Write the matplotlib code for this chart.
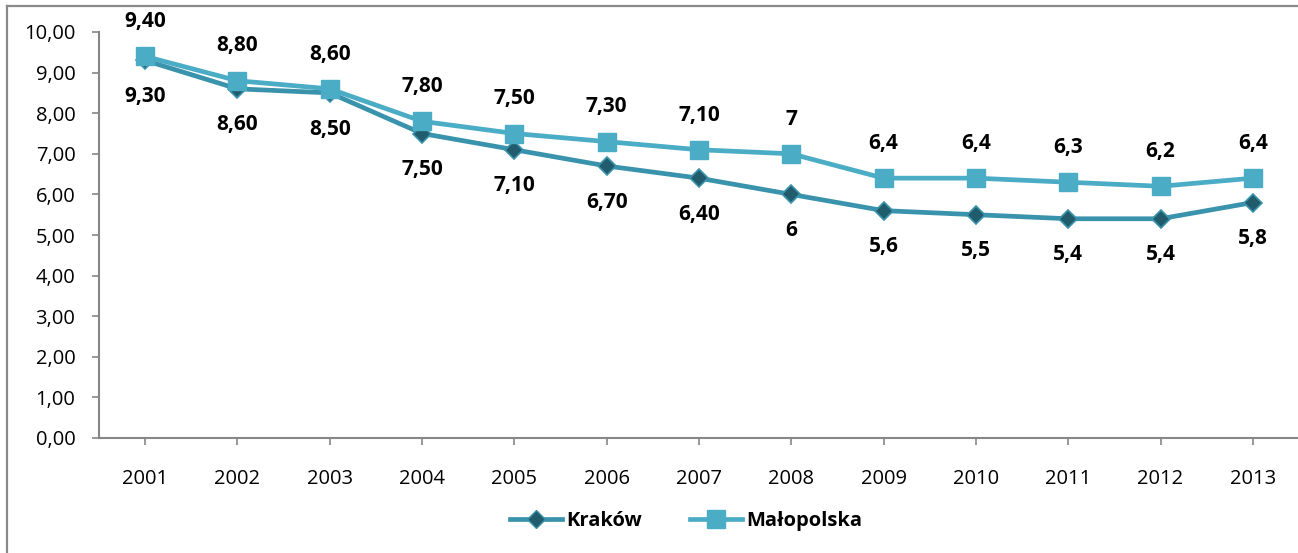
import matplotlib
matplotlib.use("Agg")
import matplotlib.pyplot as plt
from matplotlib.lines import Line2D

# Data
years = ["2001", "2002", "2003", "2004", "2005", "2006", "2007",
         "2008", "2009", "2010", "2011", "2012", "2013"]
krakow = [9.3, 8.6, 8.5, 7.5, 7.1, 6.7, 6.4, 6.0, 5.6, 5.5, 5.4, 5.4, 5.8]
malopolska = [9.4, 8.8, 8.6, 7.8, 7.5, 7.3, 7.1, 7.0, 6.4, 6.4, 6.3, 6.2, 6.4]
# number of decimals shown in the value labels (None = shortest form)
label_decimals = [2, 2, 2, 2, 2, 2, 2, None, None, None, None, None, None]
y_ticks = [0, 1, 2, 3, 4, 5, 6, 7, 8, 9, 10]

FONT = ["Open Sans", "DejaVu Sans"]
plt.rcParams["font.family"] = FONT

W, H, DPI = 1298, 553, 100
fig = plt.figure(figsize=(W / DPI, H / DPI), dpi=DPI)

C_KRK_LINE = "#3A93AC"
C_KRK_FACE = "#215C6C"
C_MAL = "#4BACC6"
C_AX = "#868686"


def fmt(v, d):
    s = f"{v:.{d}f}" if d is not None else f"{v:g}"
    return s.replace(".", ",")


# outer frame of the chart area
fx = 7 / W
fy = 1 - 6 / H
fig.add_artist(Line2D([fx, fx], [0, fy], transform=fig.transFigure, color="#8A8A8A", lw=1.6))
fig.add_artist(Line2D([fx, 1], [fy, fy], transform=fig.transFigure, color="#8A8A8A", lw=1.6))

ax = fig.add_axes([99 / W, 1 - 438 / H, 1200 / W, (438 - 32) / H])
x = list(range(len(years)))

LW = 3.4
ax.plot(x, krakow, color=C_KRK_LINE, lw=LW, marker="D", markersize=9.5,
        markerfacecolor=C_KRK_FACE, markeredgecolor=C_KRK_LINE, markeredgewidth=1.2,
        zorder=3, solid_joinstyle="round")
ax.plot(x, malopolska, color=C_MAL, lw=LW, marker="s", markersize=13,
        markerfacecolor=C_MAL, markeredgecolor=C_MAL, zorder=4)

LABEL_FS = 15
for i in x:
    ax.annotate(fmt(malopolska[i], label_decimals[i]), (i, malopolska[i]),
                xytext=(0, 25), textcoords="offset points", ha="center", va="center",
                fontsize=LABEL_FS, fontweight="bold", color="black")
    ax.annotate(fmt(krakow[i], label_decimals[i]), (i, krakow[i]),
                xytext=(0, -26), textcoords="offset points", ha="center", va="center",
                fontsize=LABEL_FS, fontweight="bold", color="black")

ax.set_xlim(-0.5, len(years) - 0.5)
ax.set_ylim(0, 10)
ax.set_yticks(y_ticks)
ax.set_yticklabels([fmt(v, 2) for v in y_ticks])
ax.set_xticks(x)
ax.set_xticklabels(years)

for side in ("top", "right"):
    ax.spines[side].set_visible(False)
for side in ("left", "bottom"):
    ax.spines[side].set_color(C_AX)
    ax.spines[side].set_linewidth(1.5)
ax.tick_params(axis="y", length=5, width=1.2, color=C_AX, labelsize=14.5, pad=12, labelcolor="black")
ax.tick_params(axis="x", length=5, width=1.2, color=C_AX, labelsize=14.5, pad=17, labelcolor="black")
ax.patch.set_alpha(0)

handles = [
    Line2D([], [], color=C_KRK_LINE, lw=LW, marker="D", markersize=9.5,
           markerfacecolor=C_KRK_FACE, markeredgecolor=C_KRK_LINE),
    Line2D([], [], color=C_MAL, lw=LW, marker="s", markersize=13,
           markerfacecolor=C_MAL, markeredgecolor=C_MAL),
]
fig.legend(handles, ["Kraków", "Małopolska"], loc="center", bbox_to_anchor=(686 / W, 1 - 521 / H),
           ncol=2, frameon=False, handlelength=2.6, handletextpad=0.2, columnspacing=2.4,
           prop={"family": FONT, "weight": "bold", "size": 14.5})

fig.savefig("out.png", dpi=DPI)
